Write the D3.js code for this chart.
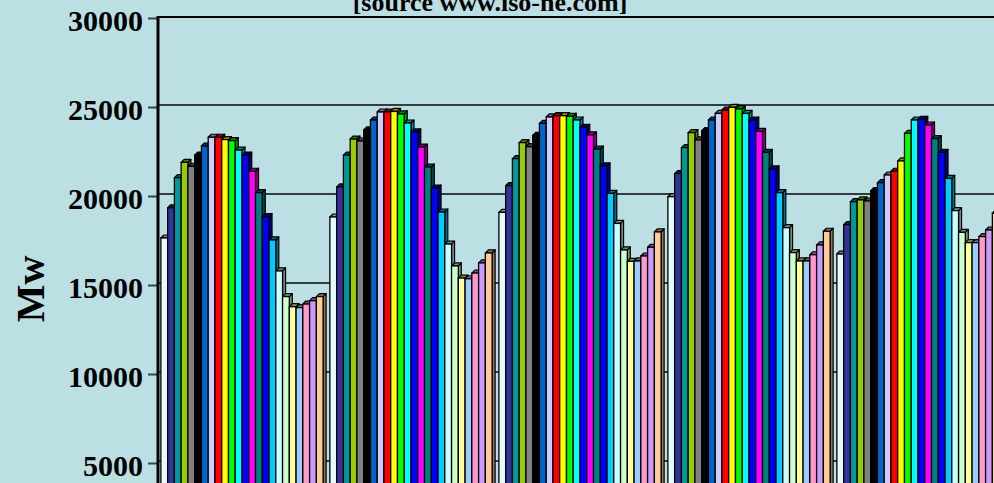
<!DOCTYPE html>
<html>
<head>
<meta charset="utf-8">
<script src="https://cdn.jsdelivr.net/npm/d3@7"></script>
<style>
  html, body { margin: 0; padding: 0; background: #bbdfe3; overflow: hidden; }
  svg { display: block; }
  text { font-family: "Liberation Serif", "Times New Roman", serif; font-weight: bold; fill: #000; }
</style>
</head>
<body>
<svg id="chart" width="994" height="483"></svg>
<script>
// Hourly system load (MW), one array per day, hour ending 1..24
const days = ["Day 1", "Day 2", "Day 3", "Day 4", "Day 5"];
const hours = ["1","2","3","4","5","6","7","8","9","10","11","12",
               "13","14","15","16","17","18","19","20","21","22","23","24"];

const day1Load = [17640,19340,21030,21890,21670,22300,22810,23300,23300,23170,23110,22580,
                  22300,21390,20190,18840,17530,15790,14350,13780,13730,13930,14120,14350];
const day2Load = [18820,20510,22300,23200,23090,23710,24270,24720,24720,24750,24610,24100,
                  23600,22750,21630,20450,19100,17300,16070,15390,15350,15670,16240,16800];
const day3Load = [19080,20580,22100,23000,22770,23410,24080,24440,24510,24510,24480,24270,
                  23860,23430,22640,21690,20150,18460,16970,16330,16350,16630,17120,17980];
const day4Load = [19960,21260,22720,23560,23150,23670,24270,24640,24830,24980,24890,24640,
                  24270,23630,22450,21520,20190,18220,16820,16350,16350,16700,17250,18020];
const day5Load = [16740,18390,19680,19780,19720,20300,20750,21180,21390,21970,23520,24270,
                  24310,23990,23220,22450,20990,19180,17960,17380,17380,17720,18090,19030];

const yTicks = [5000, 10000, 15000, 20000, 25000, 30000];
const titleText = "[source www.iso-ne.com]";
const yTitle = "Mw";

// One fill per hour of the day
const hourColors = ["#e8fbfb","#333399","#009999","#99cc00","#808080","#000000",
                    "#0066cc","#ccccff","#ff0000","#ffff00","#00ff00","#00ffff",
                    "#0000ff","#ff00ff","#008080","#0000ff","#00ccff","#ccffff",
                    "#ccffcc","#ffff99","#99ccff","#ff99cc","#cc99ff","#ffcc99"];

const loads = [day1Load, day2Load, day3Load, day4Load, day5Load];

const svg = d3.select("#chart");
const axisX = 158;       // left value axis
const depth = 3;         // 3-D depth offset of columns and back wall

const y = d3.scaleLinear().domain([0, 30000]).range([552, 18]);

const x0 = d3.scaleBand().domain(days)
  .range([axisX - 0.5, axisX - 0.5 + days.length * 169])
  .paddingInner(0.04).paddingOuter(0.02);
const x1 = d3.scaleBand().domain(hours).range([0, x0.bandwidth()]).padding(0);
const color = d3.scaleOrdinal().domain(hours).range(hourColors);

// Back-wall gridlines
svg.append("g").selectAll("line")
  .data(yTicks.filter(v => v < 30000))
  .join("line")
  .attr("x1", axisX).attr("x2", 994)
  .attr("y1", d => y(d) - 2).attr("y2", d => y(d) - 2)
  .attr("stroke", "#333d3f").attr("stroke-width", 2);

// Top edge of the plot area
svg.append("line")
  .attr("x1", axisX).attr("x2", 994)
  .attr("y1", y(30000) - 1).attr("y2", y(30000) - 1)
  .attr("stroke", "#000").attr("stroke-width", 2);

// Columns: drawn left to right so each front face hides its left neighbour's side
const base = y(0);
const groups = svg.append("g").selectAll("g.day")
  .data(days.map((d, i) => ({ day: d, values: loads[i] })))
  .join("g").attr("class", "day")
  .attr("transform", d => `translate(${x0(d.day)},0)`);

groups.each(function (d) {
  const g = d3.select(this);
  d.values.forEach((v, i) => {
    const h = hours[i];
    const xl = x1(h), w = x1.bandwidth(), xr = xl + w, t = y(v);
    const fill = color(h);
    const shade = d3.color(fill).darker(1.6).formatHex();
    const bar = g.append("g");
    bar.append("polygon")
      .attr("points", [[xr, t], [xr + depth, t - depth], [xr + depth, base - depth], [xr, base]].join(" "))
      .attr("fill", shade).attr("stroke", "#000").attr("stroke-width", 1.2).attr("stroke-linejoin", "round");
    bar.append("polygon")
      .attr("points", [[xl, t], [xl + depth, t - depth], [xr + depth, t - depth], [xr, t]].join(" "))
      .attr("fill", shade).attr("stroke", "#000").attr("stroke-width", 1.2).attr("stroke-linejoin", "round");
    bar.append("rect")
      .attr("x", xl).attr("y", t).attr("width", w).attr("height", base - t)
      .attr("fill", fill).attr("stroke", "#000").attr("stroke-width", 1.3);
  });
});

// Value axis
const yAxis = d3.axisLeft(y).tickValues(yTicks).tickFormat(d3.format("d"))
  .tickSize(10).tickPadding(5);
const ax = svg.append("g").attr("transform", `translate(${axisX},0)`).call(yAxis);
ax.select(".domain").remove();
ax.selectAll(".tick line").attr("stroke", "#3a4446").attr("stroke-width", 2);
ax.selectAll(".tick text")
  .attr("font-size", 30).attr("dy", "0.4em")
  .style("font-family", "'Liberation Serif', 'Times New Roman', serif")
  .style("font-weight", "bold").attr("fill", "#000");
svg.append("line")
  .attr("x1", axisX).attr("x2", axisX)
  .attr("y1", y(30000) - 2).attr("y2", 483)
  .attr("stroke", "#000").attr("stroke-width", 3);

// Axis title
svg.append("text")
  .attr("transform", "translate(44,289) rotate(-90)")
  .attr("text-anchor", "middle")
  .attr("font-size", 40)
  .text(yTitle);

// Chart title (source line)
svg.append("text")
  .attr("x", 490).attr("y", 11)
  .attr("text-anchor", "middle")
  .attr("font-size", 26)
  .text(titleText);
</script>
</body>
</html>
